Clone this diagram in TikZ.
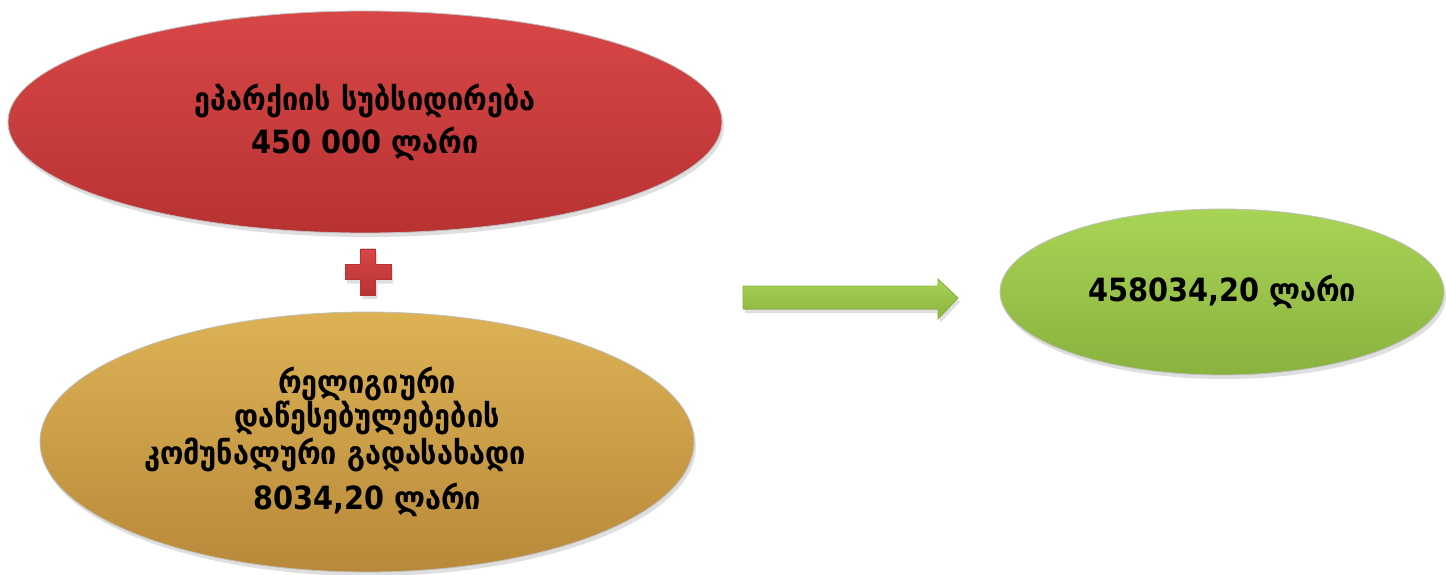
\documentclass[tikz,border=0pt]{standalone}
\usepackage{fontspec}
\newfontfamily\geofont{DejaVu Sans Condensed}
\usetikzlibrary{shapes.geometric}
\usetikzlibrary{shadows}
\definecolor{redfill}{HTML}{D84747}
\definecolor{redlow}{HTML}{B83232}
\definecolor{goldfill}{HTML}{DDB255}
\definecolor{goldlow}{HTML}{B8893A}
\definecolor{greenfill}{HTML}{A8D456}
\definecolor{greenlow}{HTML}{8AB23E}
\tikzstyle{blob}=[ellipse,draw=black!25,line width=.4pt,align=center,
  font=\geofont\bfseries\fontsize{16}{17}\selectfont,
  drop shadow={opacity=.25,shadow xshift=1pt,shadow yshift=-2pt}]
\tikzstyle{redblob}=[blob,top color=redfill,bottom color=redlow,
  minimum width=357pt,minimum height=111pt]
\tikzstyle{goldblob}=[blob,top color=goldfill,bottom color=goldlow,
  minimum width=327pt,minimum height=130pt]
\tikzstyle{greenblob}=[blob,top color=greenfill,bottom color=greenlow,
  minimum width=222pt,minimum height=83pt]
\begin{document}
\begin{tikzpicture}[x=.5pt,y=.5pt]
	\useasboundingbox (0,0) rectangle (1446,574);
	\node[redblob] (subsidy) at (365,452) {ეპარქიის სუბსიდირება\\[4.5pt] 450 000 ლარი};
	\node[goldblob] (utility) at (367,132) {რელიგიური\\ დაწესებულებების\\[1.5pt]
	  კომუნალური გადასახადი\rule{32pt}{0pt}\\[5.5pt] 8034,20 ლარი};
	\node[greenblob] (total) at (1222,282) {458034,20 ლარი};
	% plus sign
	\fill[top color=redfill,bottom color=redlow,draw=redlow,
	  drop shadow={opacity=.25,shadow xshift=1pt,shadow yshift=-2pt}]
	  (360.5,325) -- (375.5,325) -- (375.5,309.5) -- (391,309.5) -- (391,294.5)
	  -- (375.5,294.5) -- (375.5,279) -- (360.5,279) -- (360.5,294.5) -- (345,294.5)
	  -- (345,309.5) -- (360.5,309.5) -- cycle;
	% arrow
	\fill[top color=greenfill,bottom color=greenlow,draw=greenlow,
	  drop shadow={opacity=.25,shadow xshift=1pt,shadow yshift=-2pt}]
	  (743,288) -- (938,288) -- (938,295) -- (958,276) -- (938,255) -- (938,265)
	  -- (743,265) -- cycle;
\end{tikzpicture}
\end{document}
